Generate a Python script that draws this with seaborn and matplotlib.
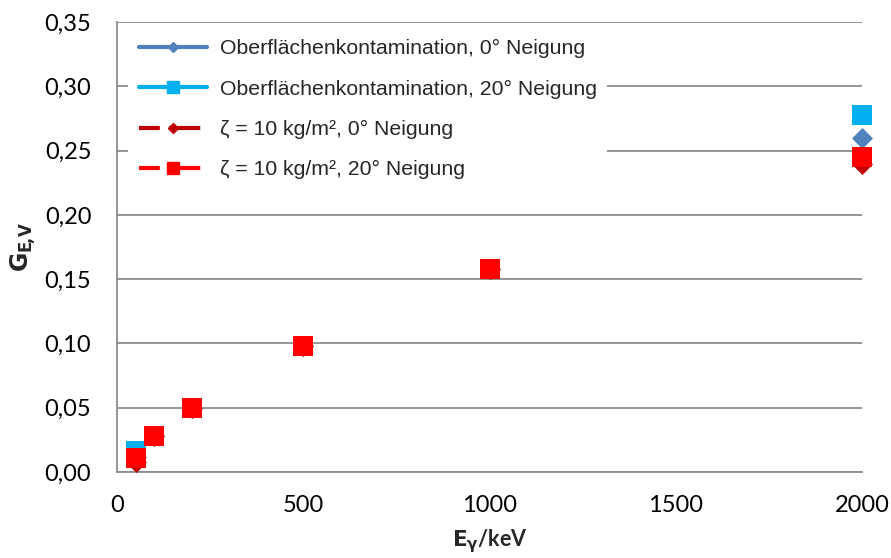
import matplotlib
matplotlib.use("Agg")
import matplotlib.pyplot as plt
import seaborn as sns
import pandas as pd
from matplotlib.lines import Line2D
from matplotlib.ticker import FuncFormatter

energy = [50, 100, 200, 500, 1000, 2000]
surf_0 = [0.012, 0.028, 0.050, 0.098, 0.158, 0.260]
surf_20 = [0.016, 0.028, 0.050, 0.098, 0.158, 0.278]
zeta_0 = [0.008, 0.028, 0.050, 0.098, 0.158, 0.2395]
zeta_20 = [0.011, 0.028, 0.050, 0.098, 0.158, 0.245]

labels = ["Oberflächenkontamination, 0° Neigung",
          "Oberflächenkontamination, 20° Neigung",
          "ζ = 10 kg/m², 0° Neigung",
          "ζ = 10 kg/m², 20° Neigung"]
colors = ["#4F81BD", "#00B0F0", "#C00000", "#FF0000"]
markers = ["D", "s", "D", "s"]
msizes = [10.7, 15, 10.7, 15]
leg_msizes = [5.2, 8.5, 5.2, 8.5]
linestyles = ["-", "-", (0, (5.0, 2.2, 7.5, 12)), (0, (5.0, 2.2, 7.5, 12))]
series = [surf_0, surf_20, zeta_0, zeta_20]

sns.set_style("white")
plt.rcParams["font.family"] = ["Lato", "DejaVu Sans"]

fig = plt.figure(figsize=(8.91, 5.58), dpi=100)
ax = fig.add_axes([117/891, 1 - 472/558, (862-117)/891, (472-22)/558])

for vals, lab, c, m, ms in zip(series, labels, colors, markers, msizes):
    df = pd.DataFrame({"E": energy, "G": vals})
    sns.scatterplot(data=df, x="E", y="G", ax=ax, color=c, marker=m,
                    s=ms**2, linewidth=0, legend=False, zorder=3, clip_on=False)

ax.set_xlim(0, 2000)
ax.set_ylim(0, 0.35)
ax.set_xticks([0, 500, 1000, 1500, 2000])
ax.set_yticks([0, 0.05, 0.10, 0.15, 0.20, 0.25, 0.30, 0.35])
ax.yaxis.set_major_formatter(FuncFormatter(lambda v, p: f"{v:.2f}".replace(".", ",")))
ax.tick_params(axis="both", labelsize=17, labelcolor="#000000", color="#8C8C8C",
               direction="out", length=4.5, width=1.3)
ax.tick_params(axis="y", pad=14)
ax.tick_params(axis="x", pad=12)
ax.grid(axis="y", color="#8C8C8C", linewidth=1.3)
ax.grid(axis="x", visible=False)
for s in ["top", "right"]:
    ax.spines[s].set_visible(False)
for s in ["left", "bottom"]:
    ax.spines[s].set_color("#8C8C8C")
    ax.spines[s].set_linewidth(1.3)
ax.set_axisbelow(True)

ax.set_xlabel(r"$\mathbf{E_\gamma}$/keV", fontsize=15.5, fontweight="bold", labelpad=8)
ax.set_ylabel(r"$\mathbf{G_{E\!,\!V}}$", fontsize=17, fontweight="bold", labelpad=5)

handles = [Line2D([0], [0], color=c, marker=m, markersize=lms, linewidth=3,
                  linestyle=ls, solid_capstyle="round", dash_capstyle="butt")
           for c, m, lms, ls in zip(colors, markers, leg_msizes, linestyles)]
leg = ax.legend(handles, labels, loc="upper left", bbox_to_anchor=(0.015, 0.985),
                borderaxespad=0, frameon=True, fancybox=False, edgecolor="white",
                framealpha=1, handlelength=3.2, handletextpad=0.6,
                labelspacing=1.0, borderpad=0.5,
                prop={"family": ["Liberation Sans", "DejaVu Sans"], "size": 15.3})
leg.get_frame().set_linewidth(0)

fig.savefig("out.png", dpi=100)
